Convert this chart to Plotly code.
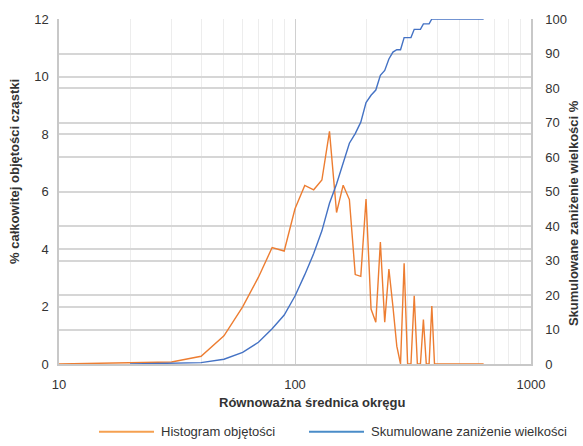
import plotly.graph_objects as go

# Equivalent circle diameter bins and volume histogram (% of total particle volume)
hist_diam = [10, 20, 30, 40, 50, 60, 70, 80, 90, 100, 110, 120, 130, 140, 150, 160,
             170, 180, 190, 200, 210, 220, 230, 240, 250, 260, 270, 280, 290, 300,
             310, 320, 330, 340, 350, 360, 370, 380, 390, 400, 630]
hist_vol = [0.0, 0.05, 0.07, 0.27, 0.98, 1.99, 3.02, 4.05, 3.93, 5.40, 6.21, 6.06, 6.40,
            8.09, 5.27, 6.22, 5.72, 3.11, 3.05, 5.74, 1.91, 1.45, 4.24, 1.45, 3.30, 2.00,
            0.62, 0.0, 3.50, 0.0, 0.0, 2.37, 0.0, 0.0, 1.55, 0.0, 0.0, 2.02, 0.0, 0.0, 0.0]

# Cumulative undersize (%)
cum_diam = [20, 30, 40, 50, 60, 70, 80, 90, 100, 110, 120, 130, 140, 150, 160, 170,
            180, 190, 200, 210, 220, 230, 240, 250, 260, 270, 280, 290, 300, 310, 320,
            330, 340, 350, 360, 370, 380, 390, 400, 630]
cum_pct = [0.0, 0.12, 0.39, 1.37, 3.36, 6.30, 10.2, 14.2, 19.7, 25.9, 32.0, 38.6, 46.6,
           52.2, 58.1, 64.0, 66.8, 70.1, 75.8, 77.9, 79.4, 83.7, 85.1, 88.4, 90.4, 91.1,
           91.1, 94.6, 94.6, 94.6, 97.0, 97.0, 97.0, 98.6, 98.6, 98.6, 100.0, 100.0,
           100.0, 100.0]

x_ticks = [10, 100, 1000]
y_left_ticks = [0, 2, 4, 6, 8, 10, 12]
y_right_ticks = [0, 10, 20, 30, 40, 50, 60, 70, 80, 90, 100]

ORANGE = "#ED7D31"
BLUE = "#4472C4"
FONT = "Liberation Sans, Arial, sans-serif"
TXT = "#333333"
GRID = "#d6d6d6"

W, H = 583, 446
L, R, T, B = 59, 52, 12, 82
PW, PH = W - L - R, H - T - B


def px_x(px):
    return (px - L) / PW


def px_y(py):
    return (H - B - py) / PH


fig = go.Figure()
fig.add_trace(go.Scatter(x=hist_diam, y=hist_vol, mode="lines", name="Histogram objętości",
                         line=dict(color=ORANGE, width=1.4), yaxis="y", showlegend=False))
fig.add_trace(go.Scatter(x=cum_diam, y=cum_pct, mode="lines",
                         name="Skumulowane zaniżenie wielkości",
                         line=dict(color=BLUE, width=1.4), yaxis="y2", showlegend=False))

fig.update_layout(
    width=W, height=H,
    margin=dict(l=L, r=R, t=T, b=B),
    paper_bgcolor="white", plot_bgcolor="white",
    font=dict(family=FONT, size=13, color=TXT),
    xaxis=dict(type="log", range=[1, 3], tickvals=x_ticks, ticktext=[str(v) for v in x_ticks],
               showgrid=True, gridcolor="#d0d0d0", gridwidth=1,
               minor=dict(dtick="D1", showgrid=True, gridcolor="#ededed", gridwidth=1),
               showline=True, linecolor="#c8c8c8", linewidth=1.5,
               ticks="", zeroline=False, tickfont=dict(size=13, color=TXT),
               ticklabelstandoff=8),
    yaxis=dict(range=[0, 12], tickvals=y_left_ticks, showgrid=True, gridcolor=GRID,
               gridwidth=1.5, showline=True, linecolor="#c8c8c8", linewidth=1.5,
               zeroline=False, ticks="", tickfont=dict(size=13, color=TXT),
               ticklabelstandoff=6),
    yaxis2=dict(range=[0, 100], tickvals=y_right_ticks, overlaying="y", side="right",
                showgrid=True, gridcolor=GRID, gridwidth=1.5, showline=True,
                linecolor="#c8c8c8", linewidth=1.5, zeroline=False, ticks="",
                tickfont=dict(size=13, color=TXT), ticklabelstandoff=10),
)

annotations = [
    dict(text="<b>Równoważna średnica okręgu</b>", x=px_x(312), y=px_y(403),
         xanchor="center", yanchor="middle", font=dict(size=13, color=TXT)),
    dict(text="<b>% całkowitej objętości cząstki</b>", x=px_x(15), y=px_y(168),
         xanchor="center", yanchor="middle", textangle=-90, font=dict(size=13, color=TXT)),
    dict(text="<b>Skumulowane zaniżenie wielkości %</b>", x=px_x(573), y=px_y(210),
         xanchor="center", yanchor="middle", textangle=-90, font=dict(size=13, color=TXT)),
    dict(text="Histogram objętości", x=px_x(159), y=px_y(433), xanchor="left",
         yanchor="middle", font=dict(size=13, color=TXT)),
    dict(text="Skumulowane zaniżenie wielkości", x=px_x(369), y=px_y(433), xanchor="left",
         yanchor="middle", font=dict(size=13, color=TXT)),
]
for a in annotations:
    a.update(xref="paper", yref="paper", showarrow=False)
fig.update_layout(annotations=annotations)

# legend swatches
fig.update_layout(shapes=[
    dict(type="line", xref="paper", yref="paper", x0=px_x(99), x1=px_x(154),
         y0=px_y(433), y1=px_y(433), line=dict(color="#F5A050", width=2)),
    dict(type="line", xref="paper", yref="paper", x0=px_x(309), x1=px_x(364),
         y0=px_y(433), y1=px_y(433), line=dict(color="#4A8CC8", width=2)),
])

fig.write_html("out.html")
